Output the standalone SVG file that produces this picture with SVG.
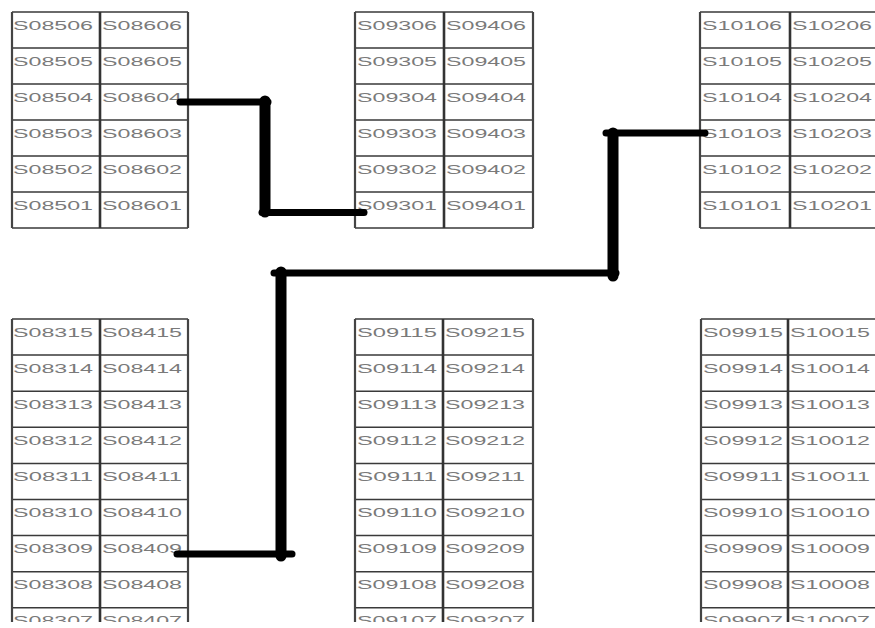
<svg xmlns="http://www.w3.org/2000/svg" width="875" height="628" viewBox="0 0 875 628">
<style>
.h{stroke:#3a3a3a;stroke-width:1.5;fill:none}
.v{stroke:#444;stroke-width:2.2;fill:none}
.d{stroke:#333;stroke-width:2.6;fill:none}
text{font-family:"Liberation Sans",Arial,sans-serif;font-size:12px;fill:#7a7a7a}
.c{stroke:#000;fill:none;stroke-linecap:round}
</style>
<defs><clipPath id="clip"><rect x="0" y="0" width="875" height="622"/></clipPath></defs>
<rect width="875" height="628" fill="#fff"/>
<g clip-path="url(#clip)">
<g id="block-tl">
<path class="h" d="M12 12H188M12 48H188M12 84H188M12 120H188M12 156H188M12 192H188M12 228H188"/>
<path class="v" d="M12 12V228M188 12V228"/><path class="d" d="M100 12V228"/>
<text x="13" y="29.5" textLength="80" lengthAdjust="spacingAndGlyphs">S08506</text><text x="102" y="29.5" textLength="80" lengthAdjust="spacingAndGlyphs">S08606</text>
<text x="13" y="65.5" textLength="80" lengthAdjust="spacingAndGlyphs">S08505</text><text x="102" y="65.5" textLength="80" lengthAdjust="spacingAndGlyphs">S08605</text>
<text x="13" y="101.5" textLength="80" lengthAdjust="spacingAndGlyphs">S08504</text><text x="102" y="101.5" textLength="80" lengthAdjust="spacingAndGlyphs">S08604</text>
<text x="13" y="137.5" textLength="80" lengthAdjust="spacingAndGlyphs">S08503</text><text x="102" y="137.5" textLength="80" lengthAdjust="spacingAndGlyphs">S08603</text>
<text x="13" y="173.5" textLength="80" lengthAdjust="spacingAndGlyphs">S08502</text><text x="102" y="173.5" textLength="80" lengthAdjust="spacingAndGlyphs">S08602</text>
<text x="13" y="209.5" textLength="80" lengthAdjust="spacingAndGlyphs">S08501</text><text x="102" y="209.5" textLength="80" lengthAdjust="spacingAndGlyphs">S08601</text>
</g>
<g id="block-tm">
<path class="h" d="M355 12H533M355 48H533M355 84H533M355 120H533M355 156H533M355 192H533M355 228H533"/>
<path class="v" d="M355 12V228M533 12V228"/><path class="d" d="M444 12V228"/>
<text x="357" y="29.5" textLength="80" lengthAdjust="spacingAndGlyphs">S09306</text><text x="446" y="29.5" textLength="80" lengthAdjust="spacingAndGlyphs">S09406</text>
<text x="357" y="65.5" textLength="80" lengthAdjust="spacingAndGlyphs">S09305</text><text x="446" y="65.5" textLength="80" lengthAdjust="spacingAndGlyphs">S09405</text>
<text x="357" y="101.5" textLength="80" lengthAdjust="spacingAndGlyphs">S09304</text><text x="446" y="101.5" textLength="80" lengthAdjust="spacingAndGlyphs">S09404</text>
<text x="357" y="137.5" textLength="80" lengthAdjust="spacingAndGlyphs">S09303</text><text x="446" y="137.5" textLength="80" lengthAdjust="spacingAndGlyphs">S09403</text>
<text x="357" y="173.5" textLength="80" lengthAdjust="spacingAndGlyphs">S09302</text><text x="446" y="173.5" textLength="80" lengthAdjust="spacingAndGlyphs">S09402</text>
<text x="357" y="209.5" textLength="80" lengthAdjust="spacingAndGlyphs">S09301</text><text x="446" y="209.5" textLength="80" lengthAdjust="spacingAndGlyphs">S09401</text>
</g>
<g id="block-tr">
<path class="h" d="M700 12H880M700 48H880M700 84H880M700 120H880M700 156H880M700 192H880M700 228H880"/>
<path class="v" d="M700 12V228"/><path class="d" d="M790 12V228"/>
<text x="702" y="29.5" textLength="80" lengthAdjust="spacingAndGlyphs">S10106</text><text x="792" y="29.5" textLength="80" lengthAdjust="spacingAndGlyphs">S10206</text>
<text x="702" y="65.5" textLength="80" lengthAdjust="spacingAndGlyphs">S10105</text><text x="792" y="65.5" textLength="80" lengthAdjust="spacingAndGlyphs">S10205</text>
<text x="702" y="101.5" textLength="80" lengthAdjust="spacingAndGlyphs">S10104</text><text x="792" y="101.5" textLength="80" lengthAdjust="spacingAndGlyphs">S10204</text>
<text x="702" y="137.5" textLength="80" lengthAdjust="spacingAndGlyphs">S10103</text><text x="792" y="137.5" textLength="80" lengthAdjust="spacingAndGlyphs">S10203</text>
<text x="702" y="173.5" textLength="80" lengthAdjust="spacingAndGlyphs">S10102</text><text x="792" y="173.5" textLength="80" lengthAdjust="spacingAndGlyphs">S10202</text>
<text x="702" y="209.5" textLength="80" lengthAdjust="spacingAndGlyphs">S10101</text><text x="792" y="209.5" textLength="80" lengthAdjust="spacingAndGlyphs">S10201</text>
</g>
<g id="block-bl">
<path class="h" d="M12 319H188M12 355.1H188M12 391.2H188M12 427.3H188M12 463.4H188M12 499.5H188M12 535.6H188M12 571.7H188M12 607.8H188"/>
<path class="v" d="M12 319V640M188 319V640"/><path class="d" d="M100 319V640"/>
<text x="13" y="336.5" textLength="80" lengthAdjust="spacingAndGlyphs">S08315</text><text x="102" y="336.5" textLength="80" lengthAdjust="spacingAndGlyphs">S08415</text>
<text x="13" y="372.6" textLength="80" lengthAdjust="spacingAndGlyphs">S08314</text><text x="102" y="372.6" textLength="80" lengthAdjust="spacingAndGlyphs">S08414</text>
<text x="13" y="408.7" textLength="80" lengthAdjust="spacingAndGlyphs">S08313</text><text x="102" y="408.7" textLength="80" lengthAdjust="spacingAndGlyphs">S08413</text>
<text x="13" y="444.8" textLength="80" lengthAdjust="spacingAndGlyphs">S08312</text><text x="102" y="444.8" textLength="80" lengthAdjust="spacingAndGlyphs">S08412</text>
<text x="13" y="480.9" textLength="80" lengthAdjust="spacingAndGlyphs">S08311</text><text x="102" y="480.9" textLength="80" lengthAdjust="spacingAndGlyphs">S08411</text>
<text x="13" y="517" textLength="80" lengthAdjust="spacingAndGlyphs">S08310</text><text x="102" y="517" textLength="80" lengthAdjust="spacingAndGlyphs">S08410</text>
<text x="13" y="553.1" textLength="80" lengthAdjust="spacingAndGlyphs">S08309</text><text x="102" y="553.1" textLength="80" lengthAdjust="spacingAndGlyphs">S08409</text>
<text x="13" y="589.2" textLength="80" lengthAdjust="spacingAndGlyphs">S08308</text><text x="102" y="589.2" textLength="80" lengthAdjust="spacingAndGlyphs">S08408</text>
<text x="13" y="625.3" textLength="80" lengthAdjust="spacingAndGlyphs">S08307</text><text x="102" y="625.3" textLength="80" lengthAdjust="spacingAndGlyphs">S08407</text>
</g>
<g id="block-bm">
<path class="h" d="M355 319H533M355 355.1H533M355 391.2H533M355 427.3H533M355 463.4H533M355 499.5H533M355 535.6H533M355 571.7H533M355 607.8H533"/>
<path class="v" d="M355 319V640M533 319V640"/><path class="d" d="M443 319V640"/>
<text x="357" y="336.5" textLength="80" lengthAdjust="spacingAndGlyphs">S09115</text><text x="445" y="336.5" textLength="80" lengthAdjust="spacingAndGlyphs">S09215</text>
<text x="357" y="372.6" textLength="80" lengthAdjust="spacingAndGlyphs">S09114</text><text x="445" y="372.6" textLength="80" lengthAdjust="spacingAndGlyphs">S09214</text>
<text x="357" y="408.7" textLength="80" lengthAdjust="spacingAndGlyphs">S09113</text><text x="445" y="408.7" textLength="80" lengthAdjust="spacingAndGlyphs">S09213</text>
<text x="357" y="444.8" textLength="80" lengthAdjust="spacingAndGlyphs">S09112</text><text x="445" y="444.8" textLength="80" lengthAdjust="spacingAndGlyphs">S09212</text>
<text x="357" y="480.9" textLength="80" lengthAdjust="spacingAndGlyphs">S09111</text><text x="445" y="480.9" textLength="80" lengthAdjust="spacingAndGlyphs">S09211</text>
<text x="357" y="517" textLength="80" lengthAdjust="spacingAndGlyphs">S09110</text><text x="445" y="517" textLength="80" lengthAdjust="spacingAndGlyphs">S09210</text>
<text x="357" y="553.1" textLength="80" lengthAdjust="spacingAndGlyphs">S09109</text><text x="445" y="553.1" textLength="80" lengthAdjust="spacingAndGlyphs">S09209</text>
<text x="357" y="589.2" textLength="80" lengthAdjust="spacingAndGlyphs">S09108</text><text x="445" y="589.2" textLength="80" lengthAdjust="spacingAndGlyphs">S09208</text>
<text x="357" y="625.3" textLength="80" lengthAdjust="spacingAndGlyphs">S09107</text><text x="445" y="625.3" textLength="80" lengthAdjust="spacingAndGlyphs">S09207</text>
</g>
<g id="block-br">
<path class="h" d="M701 319H880M701 355.1H880M701 391.2H880M701 427.3H880M701 463.4H880M701 499.5H880M701 535.6H880M701 571.7H880M701 607.8H880"/>
<path class="v" d="M701 319V640"/><path class="d" d="M788 319V640"/>
<text x="703" y="336.5" textLength="80" lengthAdjust="spacingAndGlyphs">S09915</text><text x="790" y="336.5" textLength="80" lengthAdjust="spacingAndGlyphs">S10015</text>
<text x="703" y="372.6" textLength="80" lengthAdjust="spacingAndGlyphs">S09914</text><text x="790" y="372.6" textLength="80" lengthAdjust="spacingAndGlyphs">S10014</text>
<text x="703" y="408.7" textLength="80" lengthAdjust="spacingAndGlyphs">S09913</text><text x="790" y="408.7" textLength="80" lengthAdjust="spacingAndGlyphs">S10013</text>
<text x="703" y="444.8" textLength="80" lengthAdjust="spacingAndGlyphs">S09912</text><text x="790" y="444.8" textLength="80" lengthAdjust="spacingAndGlyphs">S10012</text>
<text x="703" y="480.9" textLength="80" lengthAdjust="spacingAndGlyphs">S09911</text><text x="790" y="480.9" textLength="80" lengthAdjust="spacingAndGlyphs">S10011</text>
<text x="703" y="517" textLength="80" lengthAdjust="spacingAndGlyphs">S09910</text><text x="790" y="517" textLength="80" lengthAdjust="spacingAndGlyphs">S10010</text>
<text x="703" y="553.1" textLength="80" lengthAdjust="spacingAndGlyphs">S09909</text><text x="790" y="553.1" textLength="80" lengthAdjust="spacingAndGlyphs">S10009</text>
<text x="703" y="589.2" textLength="80" lengthAdjust="spacingAndGlyphs">S09908</text><text x="790" y="589.2" textLength="80" lengthAdjust="spacingAndGlyphs">S10008</text>
<text x="703" y="625.3" textLength="80" lengthAdjust="spacingAndGlyphs">S09907</text><text x="790" y="625.3" textLength="80" lengthAdjust="spacingAndGlyphs">S10007</text>
</g>
</g>
<g id="connectors">
<line class="c" x1="180" y1="102" x2="268" y2="102" stroke-width="7"/>
<line class="c" x1="265" y1="101" x2="265" y2="212" stroke-width="11"/>
<line class="c" x1="262" y1="212.5" x2="364" y2="212.5" stroke-width="7"/>
<line class="c" x1="177" y1="554" x2="292" y2="554" stroke-width="7"/>
<line class="c" x1="281" y1="556" x2="281" y2="272" stroke-width="11"/>
<line class="c" x1="274" y1="273" x2="616" y2="273" stroke-width="7"/>
<line class="c" x1="613" y1="276" x2="613" y2="133" stroke-width="11"/>
<line class="c" x1="606" y1="133" x2="705" y2="133" stroke-width="7"/>
</g>
</svg>
